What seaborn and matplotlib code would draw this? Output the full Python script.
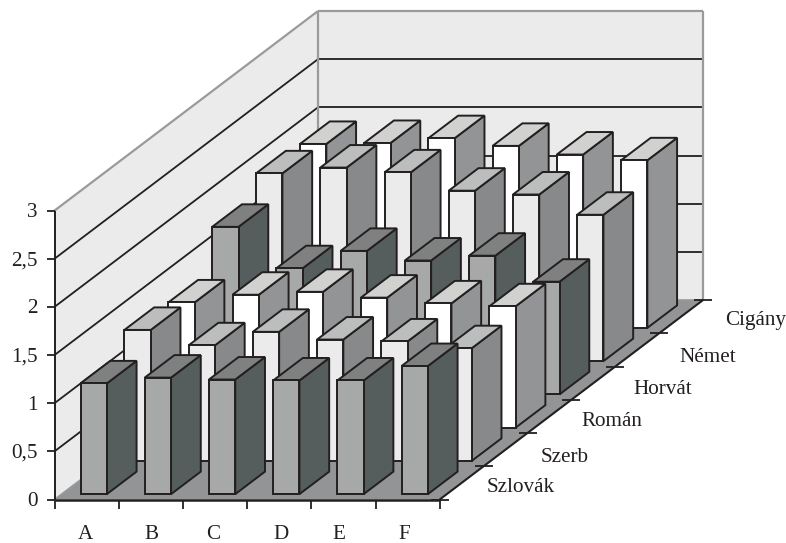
import matplotlib
matplotlib.use("Agg")
import matplotlib.pyplot as plt
from matplotlib.patches import Polygon
import numpy as np
import pandas as pd
import seaborn as sns

# ---------- data ----------
categories = ["A", "B", "C", "D", "E", "F"]
series = ["Szlovák", "Szerb", "Román", "Horvát", "Német", "Cigány"]
szlovak = [1.15, 1.21, 1.19, 1.18, 1.18, 1.33]
szerb   = [1.36, 1.20, 1.34, 1.26, 1.24, 1.17]
roman   = [1.30, 1.38, 1.41, 1.35, 1.29, 1.26]
horvat  = [1.74, 1.31, 1.49, 1.39, 1.44, 1.17]
nemet   = [1.95, 2.01, 1.96, 1.77, 1.73, 1.52]
cigany  = [1.91, 1.92, 1.97, 1.89, 1.80, 1.74]
value_ticks = [0, 0.5, 1, 1.5, 2, 2.5, 3]
value_labels = ["0", "0,5", "1", "1,5", "2", "2,5", "3"]

df = pd.DataFrame(
    [szlovak, szerb, roman, horvat, nemet, cigany],
    index=series, columns=categories,
)

# ---------- layout of the oblique projection (figure pixels) ----------
ORIGIN = np.array([54.5, 499.5])
CELL_X = np.array([64.2, 0.0])
CELL_D = np.array([43.9, -33.25])
UNIT_V = np.array([0.0, -96.3])
BAR_W = 0.41
BAR_D = 0.677
cat_label_x = [85, 151, 213.5, 281, 339, 404]
cat_label_y = 534.5
series_label_pos = [(487, 488), (541, 457), (581, 422), (633, 390), (679, 358), (725, 320)]

INK = "#231f20"
WALL = "#ebebeb"
WALL_EDGE = "#9a9a9a"
FLOOR = "#939496"
FS = 15.2
# front, top, side per series
palette = [
    ("#a7a9a8", "#7f8080", "#555e5d"),
    ("#ebebeb", "#bcbebd", "#88898b"),
    ("#ffffff", "#d1d1cf", "#939496"),
    ("#a7a9a8", "#7f8080", "#555e5d"),
    ("#ebebeb", "#bcbebd", "#88898b"),
    ("#ffffff", "#d1d1cf", "#939496"),
]


def P(c, d, v=0.0):
    """Project (category units, series units, value) to the canvas."""
    return tuple(ORIGIN + c * CELL_X + d * CELL_D + v * UNIT_V)


sns.set_theme(style="white")
plt.rcParams["font.family"] = ["Liberation Serif", "DejaVu Serif"]

fig = plt.figure(figsize=(7.86, 5.43), dpi=100, facecolor="white")
ax = fig.add_axes([0, 0, 1, 1])
ax.set_xlim(0, 786)
ax.set_ylim(543, 0)
ax.axis("off")

nc, ns = len(categories), len(series)
vmax = value_ticks[-1]


def poly(pts, fc, ec="none", lw=0, z=1):
    ax.add_patch(Polygon(pts, closed=True, facecolor=fc, edgecolor=ec,
                         linewidth=lw, joinstyle="miter", zorder=z))


# walls and floor
poly([P(0, 0), P(0, ns), P(0, ns, vmax), P(0, 0, vmax)], WALL)
poly([P(0, ns), P(nc, ns), P(nc, ns, vmax), P(0, ns, vmax)], WALL)
poly([P(0, 0), P(nc, 0), P(nc, ns), P(0, ns)], FLOOR)


def seg(a, b, color=INK, lw=1.3, z=2):
    ax.plot([a[0], b[0]], [a[1], b[1]], color=color, lw=lw, zorder=z,
            solid_capstyle="butt")


# gridlines
for v in value_ticks[1:-1]:
    seg(P(0, 0, v), P(0, ns, v))
    seg(P(0, ns, v), P(nc, ns, v))
seg(P(0, 0, vmax), P(0, ns, vmax), WALL_EDGE, 1.6)
seg(P(0, ns, vmax), P(nc, ns, vmax), WALL_EDGE, 1.6)
seg(P(0, ns), P(0, ns, vmax), WALL_EDGE, 1.6)
seg(P(nc, ns), P(nc, ns, vmax), WALL_EDGE, 1.6)
seg(P(0, 0), P(0, ns), WALL_EDGE, 1.2)
seg(P(0, ns), P(nc, ns), WALL_EDGE, 1.2)

# bars, back row first
gap_c = (1 - BAR_W) / 2
gap_d = (1 - BAR_D) / 2
z = 3
for r in range(ns - 1, -1, -1):
    front, top, side = palette[r]
    for c in range(nc):
        v = df.iloc[r, c]
        c0, c1 = c + gap_c, c + gap_c + BAR_W
        d0, d1 = r + gap_d, r + gap_d + BAR_D
        kw = dict(ec=INK, lw=1.4, z=z)
        poly([P(c1, d0), P(c1, d1), P(c1, d1, v), P(c1, d0, v)], side, **kw)
        poly([P(c0, d0, v), P(c1, d0, v), P(c1, d1, v), P(c0, d1, v)], top, **kw)
        poly([P(c0, d0), P(c1, d0), P(c1, d0, v), P(c0, d0, v)], front, **kw)
        z += 1

# axes and ticks
z += 1
seg(P(0, 0), P(0, 0, vmax), INK, 1.4, z)
seg(P(0, 0), P(nc, 0), INK, 1.8, z)
seg(P(nc, 0), P(nc, ns), INK, 1.5, z)
for v, lab in zip(value_ticks, value_labels):
    x, y = P(0, 0, v)
    seg((x - 8, y), (x, y), INK, 1.3, z)
    ax.text(38, y + 2, lab, ha="right", va="center", fontsize=FS, color=INK, zorder=z)
for c in range(nc + 1):
    x, y = P(c, 0)
    seg((x, y), (x, y + 9), INK, 1.3, z)
for r in range(ns + 1):
    x, y = P(nc, r)
    seg((x - 9, y), (x + 9, y), INK, 1.3, z)
for x, lab in zip(cat_label_x, categories):
    ax.text(x, cat_label_y, lab, ha="center", va="center", fontsize=FS, color=INK, zorder=z)
for (x, y), lab in zip(series_label_pos, series):
    ax.text(x, y, lab, ha="left", va="center", fontsize=FS, color=INK, zorder=z)

fig.savefig("out.png", dpi=100, facecolor="white")
